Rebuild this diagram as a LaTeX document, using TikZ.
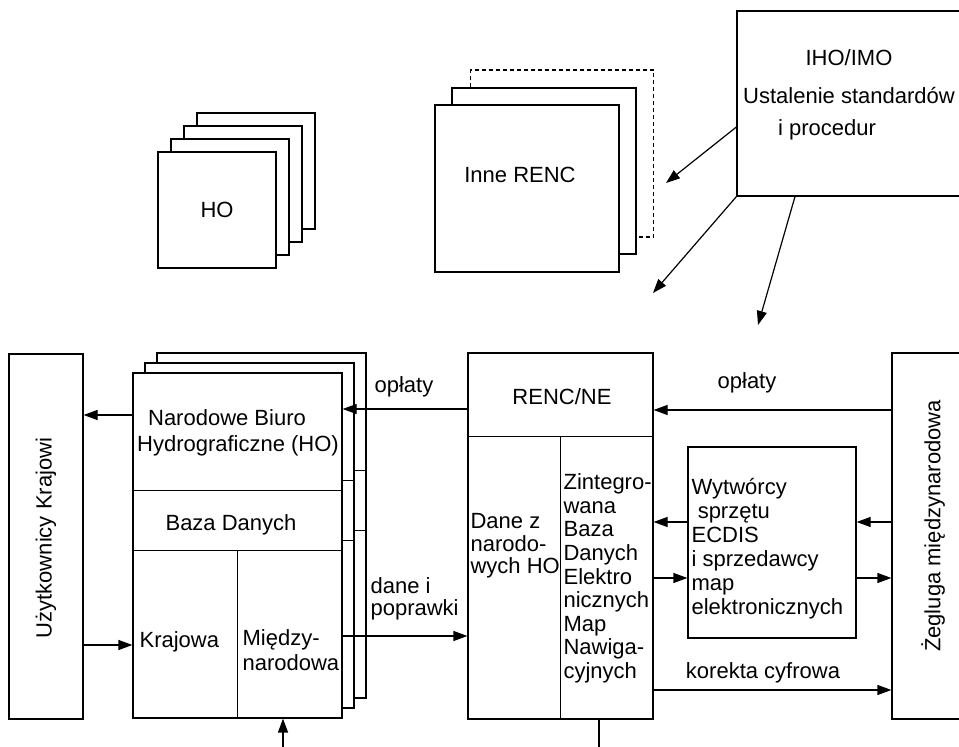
\documentclass[tikz,border=0pt]{standalone}
\usepackage{fontspec}
\setmainfont{Liberation Sans}
\usetikzlibrary{arrows.meta}

\tikzset{
    box/.style={draw, fill=white, inner sep=0pt},
    arr/.style={-{Triangle[length=7pt,width=5pt]}},
}

\begin{document}
\begin{tikzpicture}[x=0.5pt, y=-0.5pt, line width=0.6pt,
    font=\fontsize{11}{13}\selectfont]
\clip (0,0) rectangle (959,747);

% stack of HO sheets
\foreach \k in {3,2,1}
    \node[box, minimum width=59pt, minimum height=58pt] (ho\k) at ({217+13*\k},{210-13*\k}) {};
\node[box, minimum width=59pt, minimum height=58pt] (ho) at (217,210) {HO};

% other RENC, last sheet dashed
\node[box, dashed, dash pattern=on 2pt off 1.5pt, minimum width=91.5pt, minimum height=83.5pt] (renc2) at (562,153.5) {};
\node[box, minimum width=92pt, minimum height=83pt] (renc1) at (544,171) {};
\node[box, minimum width=92pt, minimum height=83.5pt] (inne) at (527,188.5) {};
\node (innetxt) at (520,175) {Inne RENC};

% IHO/IMO
\node[box, minimum width=119pt, minimum height=92.5pt] (iho) at (856,103.5) {};
\node[align=center, font=\fontsize{11}{16}\selectfont] (ihotxt) at (849,95)
    {IHO/IMO\\[3pt]Ustalenie standardów\\i procedur\hspace*{22pt}};

\coordinate (a1) at (666,183);
\coordinate (a2) at (653,293);
\coordinate (a3) at (758,325);
\draw[arr] (iho.west |- 0,127) -- (a1);
\draw[arr] (iho.south west) -- (a2);
\draw[arr] (iho.south west -| 795,0) -- (a3);

% national users
\node[box, minimum width=37pt, minimum height=182.5pt] (uzyt) at (46,536.5) {};
\node[rotate=90] (uzyttxt) at (46,538) {Użytkownicy Krajowi};

% national HO, sheets behind
\foreach \k in {2,1} {
    \node[box, minimum width=104.5pt, minimum height=172.5pt] (nbh\k) at ({237.5+12*\k},{545.5-10*\k}) {};
    \draw ([yshift=-59pt]nbh\k.north west) -- ([yshift=-59pt]nbh\k.north east);
    \draw ([yshift=-89pt]nbh\k.north west) -- ([yshift=-89pt]nbh\k.north east);
}
\node[box, minimum width=104.5pt, minimum height=172.5pt] (nbh) at (237.5,545.5) {};
\draw ([yshift=-59pt]nbh.north west) -- ([yshift=-59pt]nbh.north east);
\draw ([yshift=-89pt]nbh.north west) -- ([yshift=-89pt]nbh.north east);
\draw (nbh.south) -- ([yshift=-89pt]nbh.north);

\node[align=center] (nbhtxt) at (238,433) {Narodowe Biuro\hspace*{11pt}\\Hydrograficzne (HO)};
\node (baza) at (231,525) {Baza Danych};
\node[anchor=west, inner sep=1pt] (kraj) at (137,642) {Krajowa};
\node[anchor=west, inner sep=1pt, align=left, font=\fontsize{11}{12.5}\selectfont] (miedz) at (240,650) {Między-\\narodowa};

% RENC/NE
\node[box, minimum width=92.5pt, minimum height=183pt] (renc) at (560.5,536) {};
\draw ([yshift=-42pt]renc.north west) -- ([yshift=-42pt]renc.north east);
\draw (renc.south) -- ([yshift=-42pt]renc.north);
\node (rencne) at (562,397) {RENC/NE};
\node[anchor=west, inner sep=1pt, align=left, font=\fontsize{11}{11.2}\selectfont] (danez) at (468,546)
    {Dane z\\narodo-\\wych HO};
\node[anchor=west, inner sep=1pt, align=left, font=\fontsize{11}{11.8}\selectfont] (zbd) at (561,578.5)
    {Zintegro-\\wana\\Baza\\Danych\\Elektro\\nicznych\\Map\\Nawiga-\\cyjnych};

% ECDIS makers
\node[box, minimum width=84pt, minimum height=95.5pt] (wyt) at (772,542.5) {};
\node[anchor=west, inner sep=1pt, align=left, font=\fontsize{11}{12}\selectfont] (wyttxt) at (689,549)
    {Wytwórcy\\\hspace*{0.28em}sprzętu\\ECDIS\\i sprzedawcy\\map\\elektronicznych};

% international shipping
\node[box, minimum width=41.5pt, minimum height=183pt] (zeg) at (933.5,536) {};
\node[rotate=90] (zegtxt) at (933,526) {Żegluga międzynarodowa};

% flows on the left
\draw[arr] (nbh.west |- 0,415) -- (uzyt.east |- 0,415);
\draw[arr] (uzyt.east |- 0,645) -- (nbh.west |- 0,645);
\coordinate (dol) at (283,750);
\draw[arr] (dol) -- (nbh.south -| dol);

\draw[arr] (renc.west |- 0,409) -- (nbh.east |- 0,409);
\node (opl1) at (404,387) {opłaty};
\draw[arr] (nbh.east |- 0,636) -- (renc.west |- 0,636);
\node[anchor=west, inner sep=1pt, align=left, font=\fontsize{11}{11}\selectfont] (dane) at (368,599) {dane i\\poprawki};

% flows on the right
\draw[arr] (zeg.west |- 0,410) -- (renc.east |- 0,410);
\node (opl2) at (747,383) {opłaty};
\draw[arr] (wyt.west |- 0,522) -- (renc.east |- 0,522);
\draw[arr] (zeg.west |- 0,522) -- (wyt.east |- 0,522);
\draw[arr] (renc.east |- 0,578) -- (wyt.west |- 0,578);
\draw[arr] (wyt.east |- 0,578) -- (zeg.west |- 0,578);
\draw[arr] (renc.east |- 0,690) -- (zeg.west |- 0,690);
\node (kor) at (763,673) {korekta cyfrowa};

\coordinate (dol2) at (599,750);
\draw (renc.south -| dol2) -- (dol2);

\end{tikzpicture}
\end{document}
